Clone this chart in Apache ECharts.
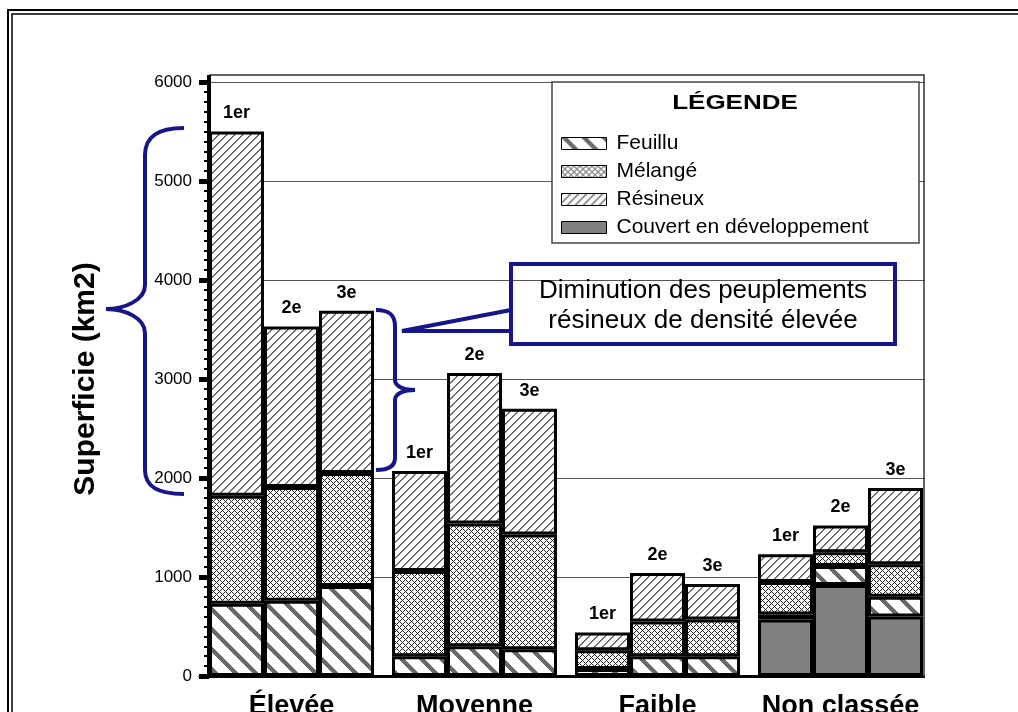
<!DOCTYPE html>
<html>
<head>
<meta charset="utf-8">
<script src="https://cdn.jsdelivr.net/npm/echarts@6/dist/echarts.min.js"></script>
<style>
  html, body { margin: 0; padding: 0; background: #fff; }
  #chart-container { width: 1018px; height: 712px; }
</style>
</head>
<body>
<div id="chart-container"></div>
<script>
// categories and ranks (1er, 2e, 3e inventaire)
var groups = ["Élevée", "Moyenne", "Faible", "Non classée"];
var ranks = ["1er", "2e", "3e"];

// values in km2, one row per rank, one column per density group
var couvert = [[0, 0, 0, 570], [0, 0, 0, 920], [0, 0, 0, 600]];
var feuillu = [[730, 200, 70, 50], [760, 300, 200, 190], [910, 270, 200, 200]];
var melange = [[1090, 860, 190, 330], [1150, 1240, 350, 140], [1140, 1160, 370, 330]];
var resineux = [[3680, 1010, 180, 280], [1620, 1520, 490, 270], [1640, 1270, 360, 770]];

var yTicks = [0, 1000, 2000, 3000, 4000, 5000, 6000];

var FONT = "Liberation Sans";
var NAVY = "#16168a";

// pixel hatch tiles, seamless when repeated
function tile(size, color, test) {
  var c = document.createElement("canvas");
  c.width = c.height = size;
  var ctx = c.getContext("2d");
  ctx.fillStyle = "#fff";
  ctx.fillRect(0, 0, size, size);
  ctx.fillStyle = color;
  for (var x = 0; x < size; x++) {
    for (var y = 0; y < size; y++) {
      if (test(x, y, size)) ctx.fillRect(x, y, 1, 1);
    }
  }
  return { image: c, repeat: "repeat" };
}

var patResineux = tile(8, "#6e6e6e", function (x, y, s) { return (x + y) % s < 2; });
var patFeuillu = tile(20, "#6a6a6a", function (x, y, s) { return ((x - y) % s + s) % s < 6; });
var patMelange = tile(6, "#222", function (x, y, s) { return (x + y) % s === 0 || ((x - y) % s + s) % s === 0; });

var layers = [
  { name: "Couvert en développement", data: couvert, color: "#808080" },
  { name: "Feuillu", data: feuillu, color: patFeuillu },
  { name: "Mélangé", data: melange, color: patMelange },
  { name: "Résineux", data: resineux, color: patResineux }
];

var series = [];
ranks.forEach(function (rank, r) {
  layers.forEach(function (layer, li) {
    series.push({
      name: layer.name,
      type: "bar",
      stack: "r" + r,
      barWidth: 55,
      barGap: "0%",
      data: layer.data[r],
      itemStyle: { color: layer.color, borderColor: "#000", borderWidth: 3 },
      label: {
        show: li === layers.length - 1,
        position: "top",
        distance: 9,
        formatter: rank,
        fontFamily: FONT,
        fontWeight: "bold",
        fontSize: 18,
        color: "#000"
      }
    });
  });
});

// curly brace built from bezier and line pieces
function brace(segs) {
  return segs.map(function (s) {
    var style = { fill: null, stroke: NAVY, lineWidth: 4 };
    if (s.length === 4) {
      return { type: "line", z: 8, shape: { x1: s[0], y1: s[1], x2: s[2], y2: s[3] }, style: style };
    }
    return {
      type: "bezierCurve", z: 8,
      shape: { x1: s[0], y1: s[1], cpx1: s[2], cpy1: s[3], cpx2: s[4], cpy2: s[5], x2: s[6], y2: s[7] },
      style: style
    };
  });
}

var leftBrace = brace([
  [184, 128, 160, 128, 145, 135, 145, 155],
  [145, 155, 145, 285],
  [145, 285, 145, 300, 125, 309, 106, 309],
  [106, 309, 125, 309, 145, 318, 145, 333],
  [145, 333, 145, 470],
  [145, 470, 145, 488, 160, 494, 184, 494]
]);
var rightBrace = brace([
  [376, 310, 388, 310, 395, 314, 395, 326],
  [395, 326, 395, 380],
  [395, 380, 395, 387, 405, 390, 415, 390],
  [415, 390, 405, 390, 395, 393, 395, 400],
  [395, 400, 395, 458],
  [395, 458, 395, 466, 388, 470, 376, 470]
]);

var chartDom = document.getElementById("chart-container");
var myChart = echarts.init(chartDom);

var option = {
  backgroundColor: "#fff",
  animation: false,
  grid: { left: 200, top: 82, width: 732, height: 594, outerBoundsMode: "none", containLabel: false },
  legend: {
    data: ["Feuillu", "Mélangé", "Résineux", "Couvert en développement"],
    orient: "vertical",
    left: 561,
    top: 133,
    padding: 0,
    itemWidth: 45,
    itemHeight: 12,
    itemGap: 7,
    icon: "rect",
    selectedMode: false,
    itemStyle: { borderWidth: 1, borderColor: "#000" },
    textStyle: { fontFamily: FONT, fontSize: 21, lineHeight: 20, color: "#000", padding: [0, 0, 0, 5] },
    z: 6
  },
  xAxis: {
    type: "category",
    data: groups,
    axisLine: { lineStyle: { color: "#000", width: 3 } },
    axisTick: { show: false },
    axisLabel: { interval: 0, fontFamily: FONT, fontWeight: "bold", fontSize: 27, color: "#000", margin: 17 }
  },
  yAxis: {
    type: "value",
    min: yTicks[0],
    max: yTicks[yTicks.length - 1],
    interval: 1000,
    offset: -9,
    name: "Superficie (km2)",
    nameLocation: "middle",
    nameRotate: 90,
    nameGap: 108,
    nameTextStyle: { fontFamily: FONT, fontWeight: "bold", fontSize: 30, color: "#000" },
    axisLine: { show: true, lineStyle: { color: "#000", width: 4 } },
    axisTick: { show: true, length: 10, lineStyle: { color: "#000", width: 5 } },
    minorTick: { show: true, splitNumber: 10, length: 5, lineStyle: { color: "#000", width: 2 } },
    splitLine: { show: true, lineStyle: { color: "#555", width: 1 } },
    axisLabel: {
      fontFamily: FONT, fontSize: 17, color: "#000", margin: 17,
      formatter: function (v) { return String(v); }
    }
  },
  graphic: [
    // outer double frame
    { type: "rect", z: 20, shape: { x: 8, y: 10, width: 1100, height: 800 }, style: { fill: null, stroke: "#000", lineWidth: 2 } },
    { type: "rect", z: 20, shape: { x: 12, y: 14, width: 1100, height: 800 }, style: { fill: null, stroke: "#000", lineWidth: 1.5 } },
    // hide grid stubs right of the plot frame
    { type: "rect", z: 15, shape: { x: 925, y: 76, width: 12, height: 605 }, style: { fill: "#fff" } },
    // plot frame top / right
    { type: "polyline", z: 16, shape: { points: [[209, 75], [924, 75], [924, 677]] }, style: { stroke: "#333", lineWidth: 1.5, fill: null } },
    { type: "line", z: 16, shape: { x1: 209, y1: 75, x2: 209, y2: 84 }, style: { stroke: "#000", lineWidth: 4 } },
    // legend box and title
    { type: "rect", z: 5, shape: { x: 552, y: 82, width: 367, height: 161 }, style: { fill: "#fff", stroke: "#444", lineWidth: 1.5 } },
    { type: "text", z: 6, x: 735, y: 103, scaleX: 1.3, style: { x: 0, y: 0, text: "LÉGENDE", font: "bold 20px " + FONT, fill: "#000", textAlign: "center", textVerticalAlign: "middle" } },
    // callout
    { type: "rect", z: 8, shape: { x: 511, y: 264, width: 384, height: 80 }, style: { fill: null, stroke: NAVY, lineWidth: 4 } },
    { type: "polyline", z: 8, shape: { points: [[511, 310], [402, 331], [511, 331]] }, style: { fill: null, stroke: NAVY, lineWidth: 4 } },
    { type: "text", z: 8, x: 703, y: 291, style: { x: 0, y: 0, text: "Diminution des peuplements", font: "26px " + FONT, fill: "#000", textAlign: "center", textVerticalAlign: "middle" } },
    { type: "text", z: 8, x: 703, y: 321, style: { x: 0, y: 0, text: "résineux de densité élevée", font: "26px " + FONT, fill: "#000", textAlign: "center", textVerticalAlign: "middle" } }
  ].concat(leftBrace, rightBrace),
  series: series
};

myChart.setOption(option);
</script>
</body>
</html>
